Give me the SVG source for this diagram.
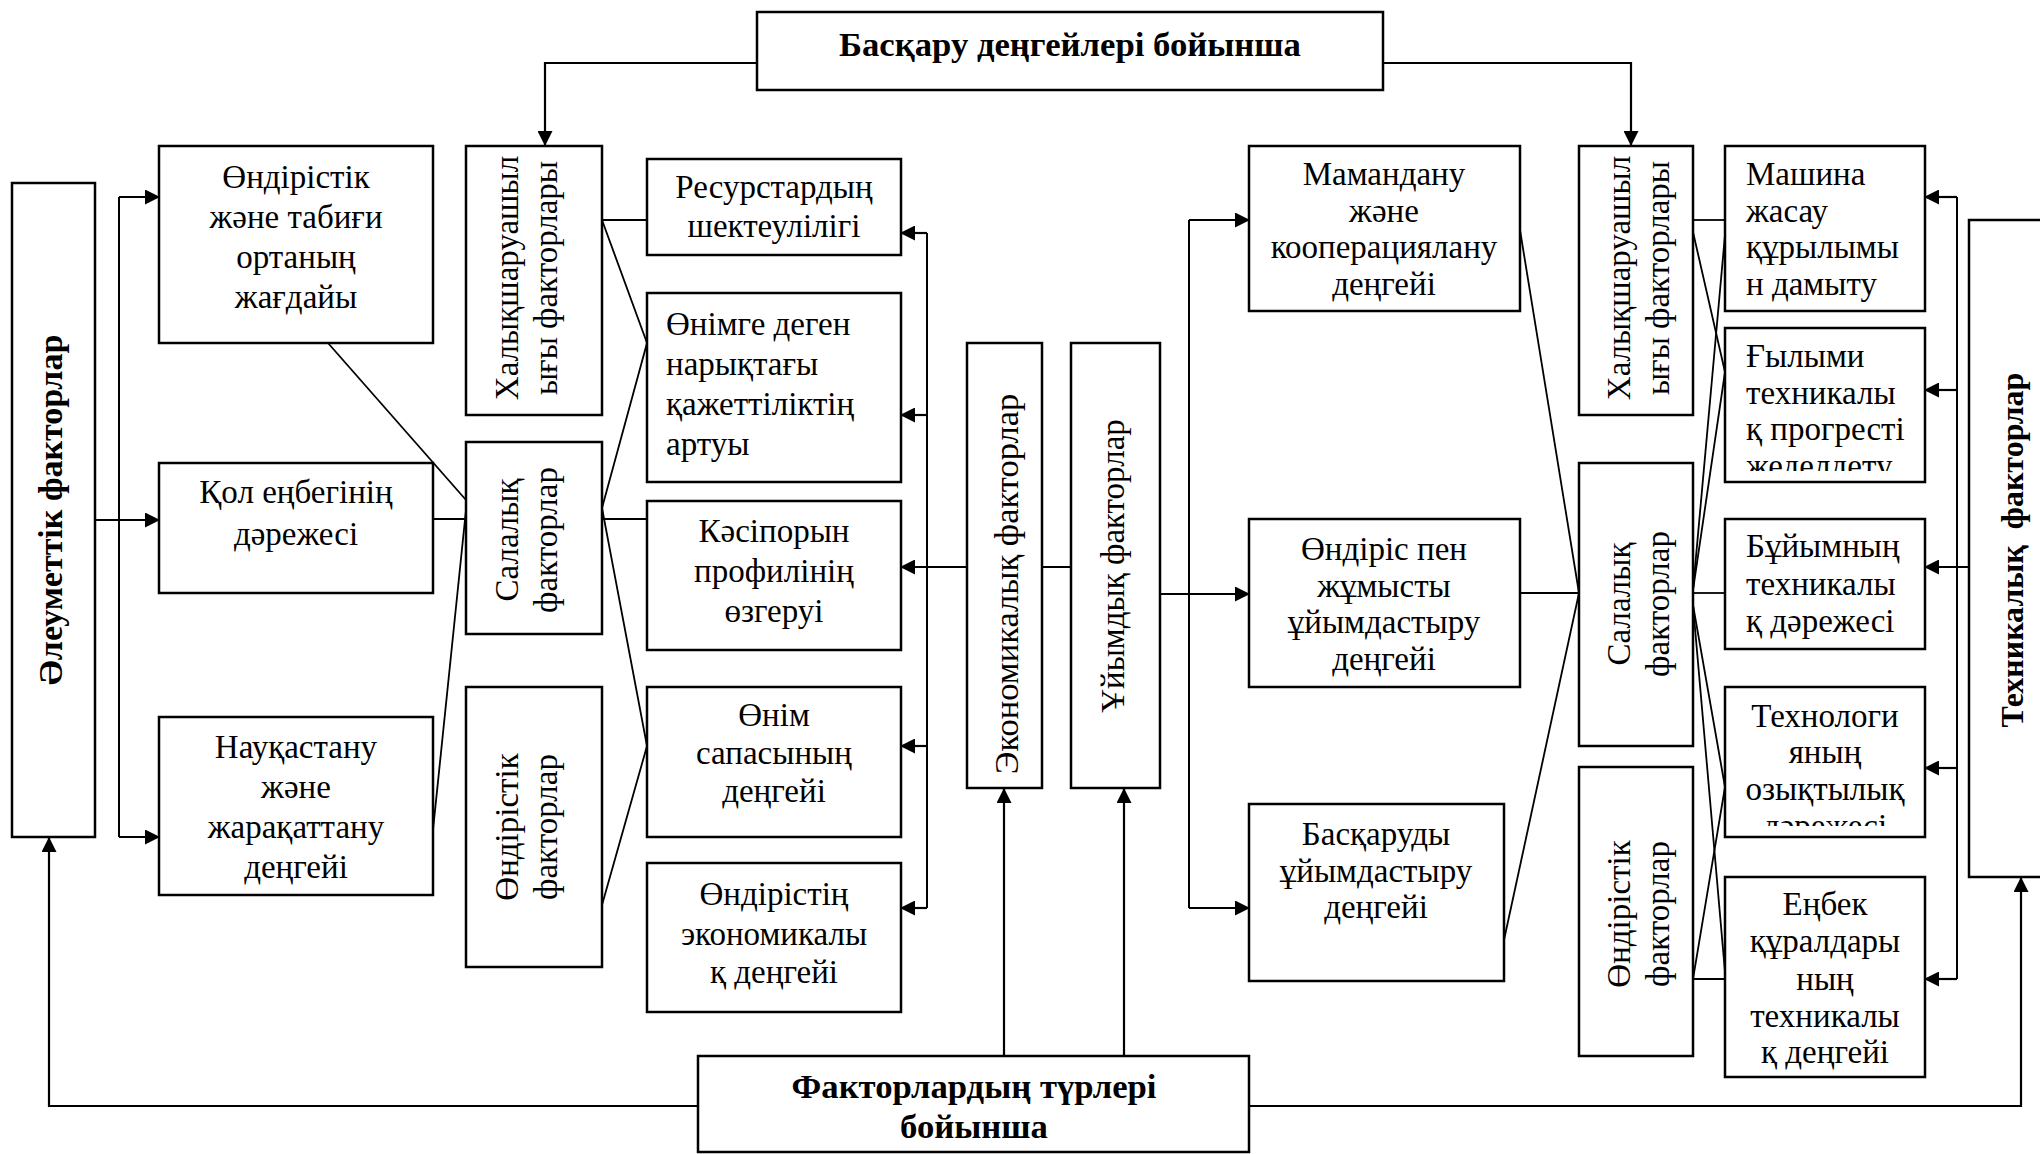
<svg xmlns="http://www.w3.org/2000/svg" width="2040" height="1154" viewBox="0 0 2040 1154">
  <defs>
    <style>
      .box { fill: #fff; stroke: #000; stroke-width: 2.5; }
      .t { font-family: "Liberation Serif", "Times New Roman", serif; font-size: 33px; fill: #000; }
      .c { text-anchor: middle; }
      .b { font-weight: bold; font-size: 34.7px; }
      .ln { fill: none; stroke: #000; stroke-width: 2; }
      .fan { fill: none; stroke: #000; stroke-width: 1.8; }
      .ar { fill: none; stroke: #000; stroke-width: 2.2; marker-end: url(#arr); }
    </style>
    <marker id="arr" markerWidth="15" markerHeight="15" refX="14" refY="7.5" orient="auto" markerUnits="userSpaceOnUse">
      <path d="M0,0 L15,7.5 L0,15 z" fill="#000"/>
    </marker>
    <clipPath id="clipScience"><rect x="1725" y="328" width="200" height="143"/></clipPath>
    <clipPath id="clipTech"><rect x="1725" y="687" width="200" height="139"/></clipPath>
  </defs>

  <rect x="0" y="0" width="2040" height="1154" fill="#fff"/>

  <!-- connectors -->
  <g id="connectors">
    <!-- top: by management level -->
    <path class="ar" d="M757,63 H545 V145"/>
    <path class="ar" d="M1383,63 H1631 V145"/>

    <!-- bottom: by factor type -->
    <path class="ar" d="M698,1106 H49 V838"/>
    <path class="ar" d="M1249,1106 H2021 V878"/>
    <path class="ar" d="M1004,1056 V789"/>
    <path class="ar" d="M1124,1056 V789"/>

    <!-- social factors -->
    <path class="ln" d="M119,197 V837"/>
    <path class="ar" d="M119,197 H159"/>
    <path class="ar" d="M95,520 H159"/>
    <path class="ar" d="M119,837 H159"/>

    <!-- economic factors -->
    <path class="ln" d="M927,233 V908"/>
    <path class="ar" d="M927,233 H901"/>
    <path class="ar" d="M927,415 H901"/>
    <path class="ar" d="M967,567 H901"/>
    <path class="ar" d="M927,746 H901"/>
    <path class="ar" d="M927,908 H901"/>
    <path class="ln" d="M1042,567 H1071"/>

    <!-- organisational factors -->
    <path class="ln" d="M1189,220 V908"/>
    <path class="ar" d="M1189,220 H1249"/>
    <path class="ar" d="M1160,594 H1249"/>
    <path class="ar" d="M1189,908 H1249"/>

    <!-- technical factors -->
    <path class="ln" d="M1957,197 V979"/>
    <path class="ar" d="M1957,197 H1925"/>
    <path class="ar" d="M1957,390 H1925"/>
    <path class="ar" d="M1969,567 H1925"/>
    <path class="ar" d="M1957,768 H1925"/>
    <path class="ar" d="M1957,979 H1925"/>

    <!-- left fan -->
    <path class="fan" d="M328,343 L466,500"/>
    <path class="fan" d="M433,519 H647"/>
    <path class="fan" d="M433,830 L466,510"/>
    <path class="fan" d="M602,220 H647"/>
    <path class="fan" d="M602,220 L647,343 L602,508 L647,746 L602,905"/>

    <!-- right fan -->
    <path class="fan" d="M1520,230 L1579,593"/>
    <path class="fan" d="M1520,593 H1579"/>
    <path class="fan" d="M1504,940 L1579,593"/>
    <path class="fan" d="M1693,220 H1725"/>
    <path class="fan" d="M1693,232 L1725,372 L1693,590"/>
    <path class="fan" d="M1725,235 L1693,590"/>
    <path class="fan" d="M1693,593 H1725"/>
    <path class="fan" d="M1693,605 L1725,972"/>
    <path class="fan" d="M1693,605 L1725,787 L1693,979 H1725"/>
  </g>

  <!-- headers -->
  <g id="by-level">
    <rect class="box" x="757" y="12" width="626" height="78"/>
    <text class="t b c" x="1070" y="56">Басқару деңгейлері бойынша</text>
  </g>
  <g id="by-type">
    <rect class="box" x="698" y="1056" width="551" height="96"/>
    <text class="t b c" x="974" y="1098">Факторлардың түрлері</text>
    <text class="t b c" x="974" y="1138">бойынша</text>
  </g>

  <!-- social -->
  <g id="social">
    <rect class="box" x="12" y="183" width="83" height="654"/>
    <text class="t b c" style="font-size:34px" transform="translate(62,510) rotate(-90)">Әлеуметтік факторлар</text>
  </g>
  <g id="environment">
    <rect class="box" x="159" y="146" width="274" height="197"/>
    <text class="t c" x="296" y="188">Өндірістік</text>
    <text class="t c" x="296" y="228">және табиғи</text>
    <text class="t c" x="296" y="268">ортаның</text>
    <text class="t c" x="296" y="308">жағдайы</text>
  </g>
  <g id="manual-labour">
    <rect class="box" x="159" y="463" width="274" height="130"/>
    <text class="t c" x="296" y="503">Қол еңбегінің</text>
    <text class="t c" x="296" y="545">дәрежесі</text>
  </g>
  <g id="morbidity">
    <rect class="box" x="159" y="717" width="274" height="178"/>
    <text class="t c" x="296" y="758">Науқастану</text>
    <text class="t c" x="296" y="798">және</text>
    <text class="t c" x="296" y="838">жарақаттану</text>
    <text class="t c" x="296" y="878">деңгейі</text>
  </g>

  <!-- left factor groups -->
  <g id="intl-left">
    <rect class="box" x="466" y="146" width="136" height="269"/>
    <text class="t c" transform="translate(518,278) rotate(-90)">Халықшаруашыл</text>
    <text class="t c" transform="translate(557,278) rotate(-90)">ығы факторлары</text>
  </g>
  <g id="sector-left">
    <rect class="box" x="466" y="442" width="136" height="192"/>
    <text class="t c" transform="translate(518,540) rotate(-90)">Салалық</text>
    <text class="t c" transform="translate(557,540) rotate(-90)">факторлар</text>
  </g>
  <g id="production-left">
    <rect class="box" x="466" y="687" width="136" height="280"/>
    <text class="t c" transform="translate(518,827) rotate(-90)">Өндірістік</text>
    <text class="t c" transform="translate(557,827) rotate(-90)">факторлар</text>
  </g>

  <!-- economic items -->
  <g id="resources">
    <rect class="box" x="647" y="159" width="254" height="96"/>
    <text class="t c" x="774" y="198">Ресурстардың</text>
    <text class="t c" x="774" y="237">шектеулілігі</text>
  </g>
  <g id="demand">
    <rect class="box" x="647" y="293" width="254" height="189"/>
    <text class="t" x="666" y="335">Өнімге деген</text>
    <text class="t" x="666" y="375">нарықтағы</text>
    <text class="t" x="666" y="415">қажеттіліктің</text>
    <text class="t" x="666" y="455">артуы</text>
  </g>
  <g id="profile">
    <rect class="box" x="647" y="501" width="254" height="149"/>
    <text class="t c" x="774" y="542">Кәсіпорын</text>
    <text class="t c" x="774" y="582">профилінің</text>
    <text class="t c" x="774" y="622">өзгеруі</text>
  </g>
  <g id="quality">
    <rect class="box" x="647" y="687" width="254" height="150"/>
    <text class="t c" x="774" y="726">Өнім</text>
    <text class="t c" x="774" y="764">сапасының</text>
    <text class="t c" x="774" y="802">деңгейі</text>
  </g>
  <g id="economic-level">
    <rect class="box" x="647" y="863" width="254" height="149"/>
    <text class="t c" x="774" y="905">Өндірістің</text>
    <text class="t c" x="774" y="945">экономикалы</text>
    <text class="t c" x="774" y="983">қ деңгейі</text>
  </g>

  <!-- central factor types -->
  <g id="economic">
    <rect class="box" x="967" y="343" width="75" height="445"/>
    <text class="t c" style="font-size:34.5px" transform="translate(1018,584) rotate(-90)">Экономикалық факторлар</text>
  </g>
  <g id="organisational">
    <rect class="box" x="1071" y="343" width="89" height="445"/>
    <text class="t c" transform="translate(1124,566) rotate(-90)">Ұйымдық факторлар</text>
  </g>

  <!-- organisational items -->
  <g id="specialisation">
    <rect class="box" x="1249" y="146" width="271" height="165"/>
    <text class="t c" x="1384" y="185">Мамандану</text>
    <text class="t c" x="1384" y="222">және</text>
    <text class="t c" x="1384" y="258">кооперациялану</text>
    <text class="t c" x="1384" y="295">деңгейі</text>
  </g>
  <g id="work-organisation">
    <rect class="box" x="1249" y="519" width="271" height="168"/>
    <text class="t c" x="1384" y="560">Өндіріс пен</text>
    <text class="t c" x="1384" y="597">жұмысты</text>
    <text class="t c" x="1384" y="633">ұйымдастыру</text>
    <text class="t c" x="1384" y="670">деңгейі</text>
  </g>
  <g id="management-organisation">
    <rect class="box" x="1249" y="804" width="255" height="177"/>
    <text class="t c" x="1376" y="845">Басқаруды</text>
    <text class="t c" x="1376" y="882">ұйымдастыру</text>
    <text class="t c" x="1376" y="918">деңгейі</text>
  </g>

  <!-- right factor groups -->
  <g id="intl-right">
    <rect class="box" x="1579" y="146" width="114" height="269"/>
    <text class="t c" transform="translate(1630,278) rotate(-90)">Халықшаруашыл</text>
    <text class="t c" transform="translate(1669,278) rotate(-90)">ығы факторлары</text>
  </g>
  <g id="sector-right">
    <rect class="box" x="1579" y="463" width="114" height="283"/>
    <text class="t c" transform="translate(1630,604) rotate(-90)">Салалық</text>
    <text class="t c" transform="translate(1669,604) rotate(-90)">факторлар</text>
  </g>
  <g id="production-right">
    <rect class="box" x="1579" y="767" width="114" height="289"/>
    <text class="t c" transform="translate(1630,914) rotate(-90)">Өндірістік</text>
    <text class="t c" transform="translate(1669,914) rotate(-90)">факторлар</text>
  </g>

  <!-- technical items -->
  <g id="machine-building">
    <rect class="box" x="1725" y="146" width="200" height="165"/>
    <text class="t" x="1746" y="185">Машина</text>
    <text class="t" x="1746" y="222">жасау</text>
    <text class="t" x="1746" y="258">құрылымы</text>
    <text class="t" x="1746" y="295">н дамыту</text>
  </g>
  <g id="science-progress">
    <rect class="box" x="1725" y="328" width="200" height="154"/>
    <g clip-path="url(#clipScience)">
      <text class="t" x="1746" y="367">Ғылыми</text>
      <text class="t" x="1746" y="404">техникалы</text>
      <text class="t" x="1746" y="440">қ прогресті</text>
      <text class="t" x="1746" y="477">жеделдету</text>
    </g>
  </g>
  <g id="product-level">
    <rect class="box" x="1725" y="519" width="200" height="130"/>
    <text class="t" x="1746" y="557">Бұйымның</text>
    <text class="t" x="1746" y="595">техникалы</text>
    <text class="t" x="1746" y="632">қ дәрежесі</text>
  </g>
  <g id="technology">
    <rect class="box" x="1725" y="687" width="200" height="150"/>
    <g clip-path="url(#clipTech)">
      <text class="t c" x="1825" y="727">Технологи</text>
      <text class="t c" x="1825" y="763">яның</text>
      <text class="t c" x="1825" y="800">озықтылық</text>
      <text class="t c" x="1825" y="837">дәрежесі</text>
    </g>
  </g>
  <g id="tools">
    <rect class="box" x="1725" y="877" width="200" height="200"/>
    <text class="t c" x="1825" y="915">Еңбек</text>
    <text class="t c" x="1825" y="952">құралдары</text>
    <text class="t c" x="1825" y="990">ның</text>
    <text class="t c" x="1825" y="1027">техникалы</text>
    <text class="t c" x="1825" y="1063">қ деңгейі</text>
  </g>

  <!-- technical -->
  <g id="technical">
    <rect class="box" x="1969" y="220" width="100" height="657"/>
    <text class="t b c" style="font-size:32px" transform="translate(2023,550) rotate(-90)" xml:space="preserve">Техникалық  факторлар</text>
  </g>
</svg>
